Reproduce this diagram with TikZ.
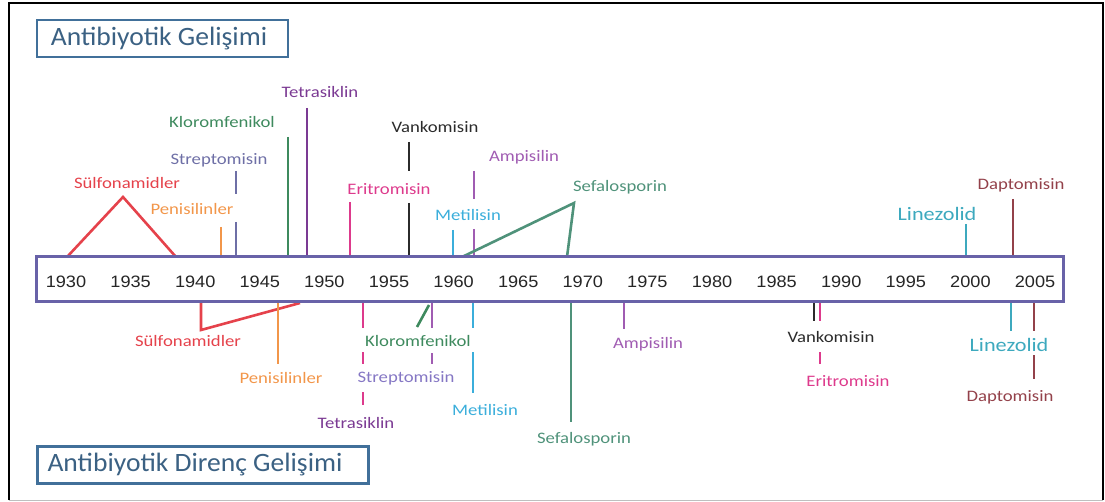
\documentclass[tikz,border=0pt]{standalone}
\usepackage{fontspec}
\setmainfont{Carlito}
\newfontfamily\labfont[FakeStretch=1.17]{Carlito}
\newfontfamily\yearfont[FakeStretch=1.1]{Liberation Sans}
\newfontfamily\headfont[FakeStretch=1.04]{Carlito}

\definecolor{cSulf}{HTML}{E5424B}
\definecolor{cPen}{HTML}{F2964A}
\definecolor{cStrep}{HTML}{6E6FA6}
\definecolor{cStrepB}{HTML}{8577C4}
\definecolor{cKlor}{HTML}{3E8A5E}
\definecolor{cTetra}{HTML}{7B3A93}
\definecolor{cEri}{HTML}{DD3A8C}
\definecolor{cVank}{HTML}{2B2B2B}
\definecolor{cAmp}{HTML}{A05CB2}
\definecolor{cMet}{HTML}{3BAEDB}
\definecolor{cSef}{HTML}{4F927A}
\definecolor{cLin}{HTML}{3DA9BE}
\definecolor{cDap}{HTML}{93414A}
\definecolor{cAxis}{HTML}{6862A8}
\definecolor{cHead}{HTML}{3B6183}
\definecolor{cHeadB}{HTML}{41709A}

\tikzset{
  lab/.style={font=\labfont\fontsize{16}{18}\selectfont, inner sep=1pt},
  biglab/.style={font=\labfont\fontsize{19}{21}\selectfont, inner sep=1pt},
  yr/.style={font=\yearfont\fontsize{16.5}{18}\selectfont, text=black!85, inner sep=0pt},
  tick/.style={line width=2.6pt},
  headbox/.style={draw=cHeadB, line width=2.5pt, inner sep=0pt, anchor=west},
  headtext/.style={text=cHead, font=\headfont\fontsize{26.5}{29}\selectfont}
}

\begin{document}
\begin{tikzpicture}[x=1pt,y=-1pt]
\useasboundingbox (0,0) rectangle (1105,502);

% outer frame
\draw[black, line width=2pt] (8.5,500) -- (8.5,3.5) -- (1102.5,3.5) -- (1102.5,500);
\draw[black!25, line width=1.5pt] (8.5,500.5) -- (1102.5,500.5);

% headings
\node[headbox, minimum width=251, minimum height=37] (h1) at (35.5,38.5) {};
\node[headtext] (h1t) at (159,38.5) {Antibiyotik Gelişimi};
\node[headbox, minimum width=331, minimum height=37] (h2) at (36,465) {};
\node[headtext] (h2t) at (195,465) {Antibiyotik Direnç Gelişimi};

% ---------- development (above the axis) ----------
% Sülfonamidler
\draw[tick, cSulf, line join=miter] (67,257) -- (123,197) -- (176,257);
\node[lab, text=cSulf] (s1) at (127,183) {Sülfonamidler};
% Penisilinler
\draw[tick, cPen] (221,227) -- (221,257);
\node[lab, text=cPen] (p1) at (192,209) {Penisilinler};
% Streptomisin
\draw[tick, cStrep] (236,171) -- (236,194);
\draw[tick, cStrep] (236,222) -- (236,257);
\node[lab, text=cStrep] (st1) at (219,160) {Streptomisin};
% Kloromfenikol
\draw[tick, cKlor] (288,137) -- (288,257);
\node[lab, text=cKlor] (k1) at (222,122) {Kloromfenikol};
% Tetrasiklin
\draw[tick, cTetra] (307,108) -- (307,257);
\node[lab, text=cTetra] (t1) at (320,92) {Tetrasiklin};
% Eritromisin
\draw[tick, cEri] (350,202) -- (350,257);
\node[lab, text=cEri] (e1) at (389,189) {Eritromisin};
% Vankomisin
\draw[tick, cVank] (409,142) -- (409,171);
\draw[tick, cVank] (409,203) -- (409,257);
\node[lab, text=cVank] (v1) at (435,127) {Vankomisin};
% Ampisilin
\draw[tick, cAmp] (474,171) -- (474,199);
\draw[tick, cAmp] (474,229) -- (474,257);
\node[lab, text=cAmp] (a1) at (524,157) {Ampisilin};
% Metilisin
\draw[tick, cMet] (453,230) -- (453,257);
\node[lab, text=cMet] (m1) at (468,215) {Metilisin};
% Sefalosporin
\draw[tick, cSef, line join=miter] (462,257) -- (574,203) -- (567,257);
\node[lab, text=cSef] (sf1) at (620,187) {Sefalosporin};
% Linezolid
\draw[tick, cLin] (966,224) -- (966,257);
\node[biglab, text=cLin] (l1) at (937,214) {Linezolid};
% Daptomisin
\draw[tick, cDap] (1013,199) -- (1013,257);
\node[lab, text=cDap] (d1) at (1021,185) {Daptomisin};

% ---------- resistance (below the axis) ----------
% Sülfonamidler
\draw[tick, cSulf, line join=miter] (201,302) -- (201,330) -- (300,303);
\node[lab, text=cSulf] (s2) at (188,341) {Sülfonamidler};
% Penisilinler
\draw[tick, cPen] (278,302) -- (278,364);
\node[lab, text=cPen] (p2) at (281,378) {Penisilinler};
% Tetrasiklin
\draw[tick, cEri] (363,302) -- (363,328);
\draw[tick, cEri] (363,352) -- (363,364);
\draw[tick, cEri] (363,392) -- (363,405);
\node[lab, text=cTetra] (t2) at (356,423) {Tetrasiklin};
% Kloromfenikol
\draw[tick, cKlor] (429,305) -- (417,327);
\node[lab, text=cKlor] (k2) at (418,341) {Kloromfenikol};
% Streptomisin
\draw[tick, cAmp] (432,302) -- (432,328);
\draw[tick, cAmp] (432,353) -- (432,364);
\node[lab, text=cStrepB] (st2) at (406,378) {Streptomisin};
% Metilisin
\draw[tick, cMet] (473,302) -- (473,328);
\draw[tick, cMet] (473,352) -- (473,393);
\node[lab, text=cMet] (m2) at (485,410) {Metilisin};
% Sefalosporin
\draw[tick, cSef] (571,302) -- (571,422);
\node[lab, text=cSef] (sf2) at (584,439) {Sefalosporin};
% Ampisilin
\draw[tick, cAmp] (624,302) -- (624,329);
\node[lab, text=cAmp] (a2) at (648,344) {Ampisilin};
% Vankomisin
\draw[tick, cVank] (814,302) -- (814,321);
\node[lab, text=cVank] (v2) at (831,337) {Vankomisin};
% Eritromisin
\draw[tick, cEri] (820,302) -- (820,321);
\draw[tick, cEri] (820,352) -- (820,364);
\node[lab, text=cEri] (e2) at (848,381) {Eritromisin};
% Linezolid
\draw[tick, cLin] (1011,302) -- (1011,331);
\node[biglab, text=cLin] (l2) at (1009,345) {Linezolid};
% Daptomisin
\draw[tick, cDap] (1034,302) -- (1034,331);
\draw[tick, cDap] (1034,355) -- (1034,379);
\node[lab, text=cDap] (d2) at (1010,397) {Daptomisin};

% ---------- time axis ----------
\node[draw=cAxis, fill=white, line width=3pt, minimum width=1027, minimum height=45,
      inner sep=0pt] (tl) at (549.5,279.5) {};
\foreach \yy [count=\i from 0] in {1930,1935,...,2005}
  \node[yr] (y\yy) at (66+\i*64.6,282) {\yy};

\end{tikzpicture}
\end{document}
